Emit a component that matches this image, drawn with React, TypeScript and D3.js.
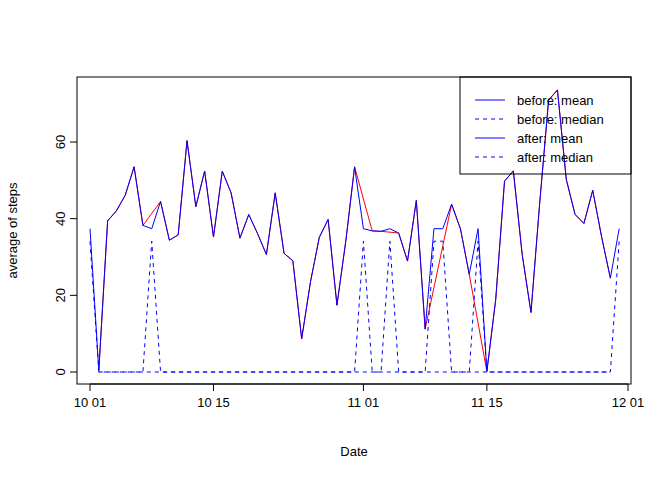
import React from "react";
import * as d3 from "d3";

// daily mean steps per interval, NaN = missing day
const beforeMean = [NaN, 0.4375, 39.417, 42.069, 46.16, 53.542, 38.247, NaN, 44.483, 34.375, 35.778, 60.354, 43.146, 52.424, 35.205, 52.375, 46.708, 34.917, 41.073, 36.094, 30.628, 46.736, 30.965, 29.01, 8.653, 23.535, 35.135, 39.785, 17.424, 34.094, 53.521, NaN, 36.806, 36.705, NaN, 36.247, 28.938, 44.733, 11.177, NaN, NaN, 43.778, 37.378, 25.472, NaN, 0.142, 18.892, 49.788, 52.465, 30.698, 15.528, 44.399, 70.927, 73.59, 50.271, 41.09, 38.757, 47.382, 35.358, 24.469, NaN];
const fillMean = 37.383;
const fillMedian = 34.113;
const startDate = new Date(2012, 9, 1);
const days = beforeMean.map((_, i) => d3.timeDay.offset(startDate, i));
const afterMean = beforeMean.map((v) => (isNaN(v) ? fillMean : v));
const beforeMedian = beforeMean.map((v) => (isNaN(v) ? NaN : 0));
const afterMedian = beforeMean.map((v) => (isNaN(v) ? fillMedian : 0));
const xTicks = [new Date(2012, 9, 1), new Date(2012, 9, 15), new Date(2012, 10, 1), new Date(2012, 10, 15), new Date(2012, 11, 1)];
const yTicks = [0, 20, 40, 60];
const legendLabels = ["before: mean", "before: median", "after: mean", "after: median"];

export default function App() {
  const W = 672, H = 480;
  const L = 77, R = 631, T = 77, B = 384;
  const x = d3.scaleTime().domain([startDate, new Date(2012, 11, 1)]).range([90, 628]);
  const y = d3.scaleLinear().domain([0, 60]).range([372, 142]);
  const mk = (arr: number[]) => {
    const pts = arr.map((v, i) => [days[i], v] as [Date, number]).filter((p) => !isNaN(p[1]));
    return d3.line<[Date, number]>().x((p) => x(p[0])).y((p) => y(p[1]))(pts) || "";
  };
  const font = "Arial, 'Liberation Sans', sans-serif";
  return (
    <svg width={W} height={H} style={{ position: "absolute", left: 0, top: 0 }} fontFamily={font}>
      <rect width={W} height={H} fill="white" />
      <path d={mk(beforeMean)} fill="none" stroke="red" strokeWidth={1} />
      <path d={mk(beforeMedian)} fill="none" stroke="blue" strokeDasharray="4,4" strokeWidth={1} />
      <path d={mk(afterMean)} fill="none" stroke="blue" strokeWidth={1} />
      <path d={mk(afterMedian)} fill="none" stroke="blue" strokeDasharray="4,4" strokeWidth={1} />
      <rect x={L} y={T} width={R - L} height={B - T} fill="none" stroke="black" />
      {xTicks.map((t, i) => (
        <g key={i}>
          <line x1={x(t)} x2={x(t)} y1={B} y2={B + 7} stroke="black" />
          <text x={x(t)} y={B + 23} textAnchor="middle" fontSize={13}>{d3.timeFormat("%m %d")(t)}</text>
        </g>
      ))}
      <line x1={x(xTicks[0])} x2={x(xTicks[4])} y1={B} y2={B} stroke="black" />
      {yTicks.map((t) => (
        <g key={t}>
          <line x1={L - 7} x2={L} y1={y(t)} y2={y(t)} stroke="black" />
          <text transform={`translate(${L - 12},${y(t)}) rotate(-90)`} textAnchor="middle" fontSize={13}>{t}</text>
        </g>
      ))}
      <text x={(L + R) / 2} y={456} textAnchor="middle" fontSize={13}>Date</text>
      <text transform={`translate(17,${(T + B) / 2}) rotate(-90)`} textAnchor="middle" fontSize={13}>average of steps</text>
      <rect x={460} y={T} width={R - 460} height={97} fill="none" stroke="black" />
      {legendLabels.map((s, i) => (
        <g key={s}>
          <line x1={475} x2={505} y1={100 + i * 19} y2={100 + i * 19} stroke="blue" strokeDasharray={i % 2 ? "4,4" : undefined} />
          <text x={517} y={105 + i * 19} fontSize={13}>{s}</text>
        </g>
      ))}
    </svg>
  );
}
